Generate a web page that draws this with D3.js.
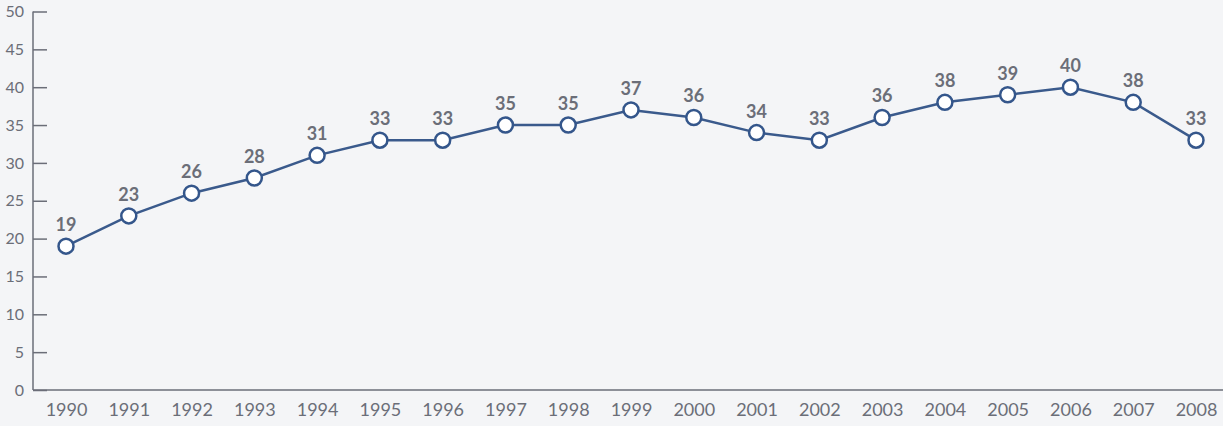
<!DOCTYPE html>
<html>
<head>
<meta charset="utf-8">
<script src="https://cdn.jsdelivr.net/npm/d3@7"></script>
<style>
  body { margin: 0; background: #f4f5f7; }
  #chart text { font-family: Lato, "Open Sans", sans-serif; }
</style>
</head>
<body>
<div id="chart"></div>
<script>
// Data
const years = [1990, 1991, 1992, 1993, 1994, 1995, 1996, 1997, 1998, 1999,
               2000, 2001, 2002, 2003, 2004, 2005, 2006, 2007, 2008]
const values = [19, 23, 26, 28, 31, 33, 33, 35, 35, 37,
                36, 34, 33, 36, 38, 39, 40, 38, 33]
const yTicks = [0, 5, 10, 15, 20, 25, 30, 35, 40, 45, 50]

const dataset = years.map((y, i) => ({ year: y, value: values[i] }))

function draw() {
  const width = 1223
  const height = 426
  const axisX = 33

  const svg = d3.select('#chart')
    .append('svg')
    .attr('width', width)
    .attr('height', height)

  svg.append('rect')
    .attr('width', width)
    .attr('height', height)
    .attr('fill', '#f4f5f7')

  // Scales
  const xScale = d3.scalePoint()
    .domain(years)
    .range([66, 1196])

  const yScale = d3.scaleLinear()
    .domain([0, 50])
    .range([390, 11.5])

  // y axis: ticks pointing right into the plot
  const yAxis = d3.axisRight(yScale)
    .tickValues(yTicks)
    .tickSize(14)
    .tickFormat(d => d)

  const yAxisGroup = svg.append('g')
    .attr('transform', `translate(${axisX}, 0)`)
    .call(yAxis)

  yAxisGroup.select('.domain').remove()
  yAxisGroup.selectAll('line')
    .attr('stroke', '#6b6e78')
    .attr('stroke-width', 1.5)
  yAxisGroup.selectAll('text')
    .attr('x', -9)
    .attr('text-anchor', 'end')
    .attr('fill', '#6b6e78')
    .style('font-size', '16px')

  // axis lines
  svg.append('line')
    .attr('x1', axisX).attr('x2', axisX)
    .attr('y1', yScale(50)).attr('y2', yScale(0))
    .attr('stroke', '#6b6e78')
    .attr('stroke-width', 1.5)

  svg.append('line')
    .attr('x1', axisX).attr('x2', width)
    .attr('y1', yScale(0)).attr('y2', yScale(0))
    .attr('stroke', '#6b6e78')
    .attr('stroke-width', 1.5)

  // x labels
  const xAxis = d3.axisBottom(xScale).tickSize(0).tickFormat(d => d)
  const xAxisGroup = svg.append('g')
    .attr('transform', `translate(0, ${yScale(0)})`)
    .call(xAxis)
  xAxisGroup.select('.domain').remove()
  xAxisGroup.selectAll('text')
    .attr('y', 13)
    .attr('fill', '#6b6e78')
    .style('font-size', '18px')

  // Line
  const line = d3.line()
    .x(d => xScale(d.year))
    .y(d => yScale(d.value))

  svg.append('path')
    .datum(dataset)
    .attr('d', line)
    .attr('fill', 'none')
    .attr('stroke', '#3a5a8c')
    .attr('stroke-width', 2.5)

  svg.selectAll('circle')
    .data(dataset)
    .join('circle')
    .attr('cx', d => xScale(d.year))
    .attr('cy', d => yScale(d.value))
    .attr('r', 7.5)
    .attr('fill', '#ffffff')
    .attr('stroke', '#34568b')
    .attr('stroke-width', 2.5)

  svg.selectAll('.value-label')
    .data(dataset)
    .join('text')
    .attr('class', 'value-label')
    .attr('x', d => xScale(d.year))
    .attr('y', d => yScale(d.value) - 15)
    .attr('text-anchor', 'middle')
    .attr('fill', '#6b6e78')
    .style('font-size', '18px')
    .style('font-weight', 'bold')
    .text(d => d.value)
}

draw()
</script>
</body>
</html>
